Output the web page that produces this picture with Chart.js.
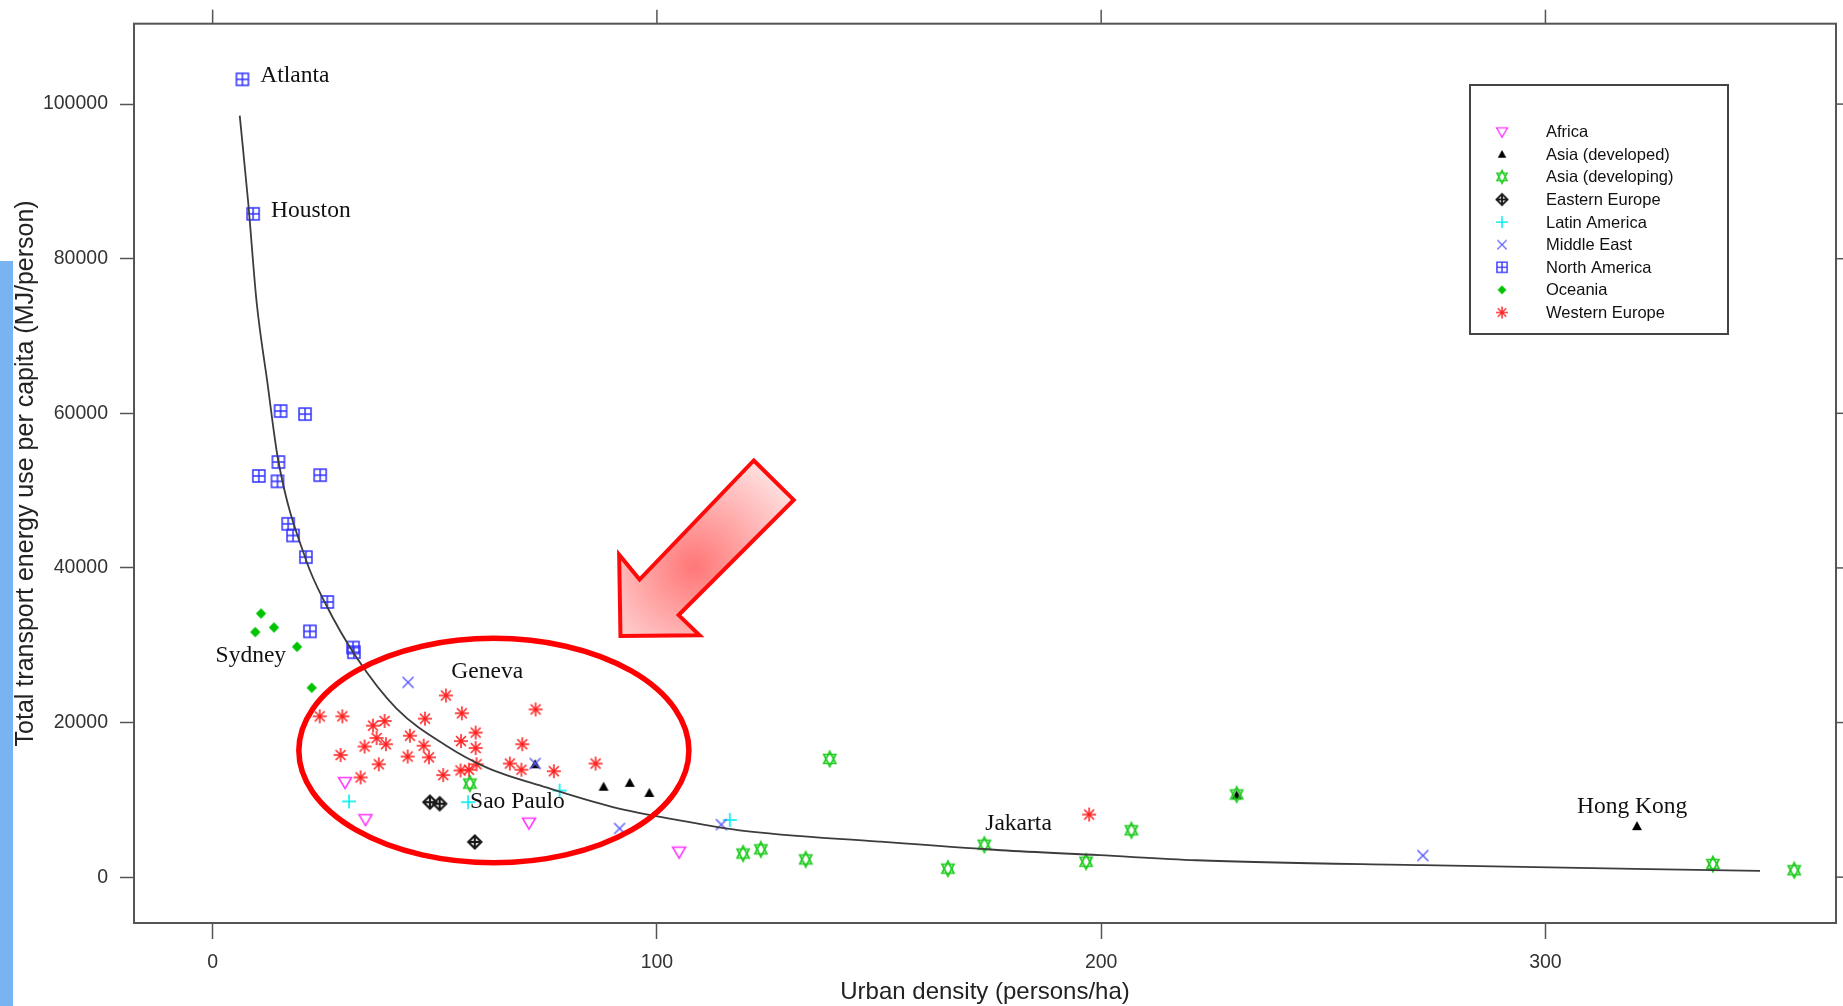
<!DOCTYPE html>
<html><head><meta charset="utf-8"><title>Urban density vs transport energy</title>
<script src="https://cdn.jsdelivr.net/npm/chart.js@4.4.1/dist/chart.umd.min.js"></script>
<style>html,body{margin:0;padding:0;background:#fff;overflow:hidden;}canvas{display:block;}</style>
</head><body>
<canvas id="c" width="1843" height="1006"></canvas>
<script>
// ---------------- data ----------------
const xTickValues = [0, 100, 200, 300];
const yTickValues = [0, 20000, 40000, 60000, 80000, 100000];
const regionNames = ['Africa','Asia (developed)','Asia (developing)','Eastern Europe','Latin America','Middle East','North America','Oceania','Western Europe'];

const africaX = [29.8, 34.4, 71.2, 105.0];
const africaY = [12300, 7500, 7050, 3300];
const asiaDevelopedX = [72.6, 88.0, 93.9, 98.3, 230.5, 320.6];
const asiaDevelopedY = [14600, 11700, 12200, 10900, 10600, 6600];
const asiaDevelopingX = [57.9, 119.4, 123.4, 133.5, 138.9, 165.5, 173.7, 196.6, 206.8, 230.5, 337.7, 356.0];
const asiaDevelopingY = [12100, 3060, 3600, 2300, 15300, 1100, 4200, 2000, 6060, 10700, 1700, 900];
const easternEuropeX = [48.9, 51.1, 59.0];
const easternEuropeY = [9700, 9500, 4550];
const latinAmericaX = [30.7, 57.5, 78.1, 116.4];
const latinAmericaY = [9800, 9700, 11200, 7400];
const middleEastX = [44.0, 72.6, 91.6, 114.5, 272.4];
const middleEastY = [25200, 14700, 6300, 6800, 2800];
const northAmericaX = [6.7, 9.1, 15.3, 20.8, 14.8, 10.4, 14.6, 24.2, 17.0, 18.1, 21.0, 25.8, 21.9, 31.6, 31.8];
const northAmericaY = [103200, 85800, 60300, 59900, 53700, 51900, 51200, 52000, 45700, 44200, 41400, 35600, 31800, 29700, 29100];
const oceaniaX = [10.9, 9.6, 13.8, 19.0, 22.3];
const oceaniaY = [34100, 31700, 32300, 29800, 24500];
const westernEuropeX = [52.5, 24.1, 29.2, 38.7, 36.1, 47.8, 56.1, 72.7, 59.2, 44.4, 36.9, 39.0, 34.2, 47.5, 55.9, 59.2, 69.7, 28.8, 43.9, 48.7, 37.4, 55.8, 57.7, 59.4, 66.9, 69.5, 76.8, 86.2, 51.9, 33.3, 197.3];
const westernEuropeY = [23500, 20800, 20800, 20200, 19600, 20500, 21200, 21700, 18700, 18300, 18000, 17200, 16900, 17000, 17600, 16700, 17200, 15800, 15600, 15500, 14600, 13800, 13900, 14600, 14700, 13900, 13700, 14700, 13200, 12900, 8100];

const curveX = [6.1, 8.0, 9.9, 12.3, 14.8, 21.1, 25.3, 32.4, 41.4, 52.6, 61.6, 75.1, 90.1, 105.1, 118.6, 150, 177.5, 199.6, 221.4, 272.4, 348.3];
const curveY = [98500, 87300, 74400, 64100, 53800, 40900, 35500, 28400, 21800, 17000, 14200, 11600, 9070, 7350, 6060, 4600, 3480, 2840, 2190, 1550, 810];

const cityNames = ['Atlanta','Houston','Sydney','Geneva','Sao Paulo','Jakarta','Hong Kong'];
const cityX = [18.5, 22.1, 8.6, 61.8, 68.6, 181.4, 319.5];
const cityY = [103600, 86200, 28600, 26500, 9700, 6900, 9160];

// highlight annotations (data units)
const ellipseCenter = [63.3, 16380];
const ellipseRadii = [43.9, 14510];
const arrowX = [121.8, 130.8, 104.9, 109.6, 91.8, 91.5, 96.1];
const arrowY = [53900, 48800, 33900, 31300, 31200, 41700, 38500];

// ---------------- styles ----------------
const SANS = "'Liberation Sans', Arial, sans-serif";
const SERIF = "'Liberation Serif', 'Times New Roman', serif";
const regionColors = ['#ff33ff','#000000','#22cc22','#1a1a1a','#00eeee','#5c5cff','#3030ff','#00c400','#ff1a1a'];
const regionShapes = ['triDown','triFill','starDavid','diamondPlus','plus','cross','squarePlus','diamondFill','asterisk'];

function makeSymbol(shape, color) {
  const c = document.createElement('canvas');
  c.width = 20; c.height = 20;
  const g = c.getContext('2d');
  g.translate(10, 10);
  g.strokeStyle = color; g.fillStyle = color; g.lineWidth = 1.5;
  const line = (a,b,c2,d) => { g.beginPath(); g.moveTo(a,b); g.lineTo(c2,d); g.stroke(); };
  switch (shape) {
    case 'triDown':
      g.beginPath(); g.moveTo(-6.5,-4.5); g.lineTo(6.5,-4.5); g.lineTo(0,6.5); g.closePath(); g.stroke(); break;
    case 'triFill':
      g.beginPath(); g.moveTo(-5,4); g.lineTo(5,4); g.lineTo(0,-5); g.closePath(); g.fill(); break;
    case 'starDavid':
      g.lineWidth = 1.7;
      g.beginPath(); g.moveTo(0,-7.5); g.lineTo(6,4.5); g.lineTo(-6,4.5); g.closePath(); g.stroke();
      g.beginPath(); g.moveTo(0,7.5); g.lineTo(6,-4.5); g.lineTo(-6,-4.5); g.closePath(); g.stroke(); break;
    case 'diamondPlus':
      g.lineWidth = 2.2;
      g.beginPath(); g.moveTo(0,-6.5); g.lineTo(6.5,0); g.lineTo(0,6.5); g.lineTo(-6.5,0); g.closePath(); g.stroke();
      line(-6.5,0,6.5,0); line(0,-6.5,0,6.5); break;
    case 'plus':
      g.lineWidth = 1.6; line(-7,0,7,0); line(0,-7,0,7); break;
    case 'cross':
      line(-5.5,-5.5,5.5,5.5); line(-5.5,5.5,5.5,-5.5); break;
    case 'squarePlus':
      g.lineWidth = 1.5; g.strokeRect(-6,-6,12,12); line(-6,0,6,0); line(0,-6,0,6); break;
    case 'diamondFill':
      g.beginPath(); g.moveTo(0,-5.2); g.lineTo(5.2,0); g.lineTo(0,5.2); g.lineTo(-5.2,0); g.closePath(); g.fill(); break;
    case 'asterisk':
      g.lineWidth = 1.5;
      for (let k = 0; k < 4; k++) { const a = k*Math.PI/4; line(-7*Math.cos(a),-7*Math.sin(a),7*Math.cos(a),7*Math.sin(a)); }
      break;
  }
  return c;
}
const symbols = regionShapes.map((s,i) => makeSymbol(s, regionColors[i]));

const pairs = (xs, ys) => xs.map((x,i) => ({x, y: ys[i]}));
const regionData = [
  pairs(africaX, africaY), pairs(asiaDevelopedX, asiaDevelopedY), pairs(asiaDevelopingX, asiaDevelopingY),
  pairs(easternEuropeX, easternEuropeY), pairs(latinAmericaX, latinAmericaY), pairs(middleEastX, middleEastY),
  pairs(northAmericaX, northAmericaY), pairs(oceaniaX, oceaniaY), pairs(westernEuropeX, westernEuropeY)
];

const datasets = [{
  label: 'fit', data: pairs(curveX, curveY), showLine: true, pointRadius: 0,
  borderColor: '#3c3c3c', borderWidth: 1.8, cubicInterpolationMode: 'monotone', fill: false, order: 0
}].concat(regionNames.map((n,i) => ({
  label: n, data: regionData[i], pointStyle: symbols[i], pointRadius: 6, showLine: false, order: 20 - i
})));

// ---------------- decorations plugin ----------------
const decor = {
  id: 'decor',
  beforeDraw(chart) {
    const g = chart.ctx;
    g.save();
    g.fillStyle = '#ffffff'; g.fillRect(0, 0, chart.width, chart.height);
    g.fillStyle = '#79b4f2'; g.fillRect(0, 261, 13, chart.height - 261);
    g.restore();
  },
  beforeDatasetsDraw(chart) {
    const g = chart.ctx, a = chart.chartArea, sx = chart.scales.x, sy = chart.scales.y;
    g.save();
    g.strokeStyle = '#555'; g.lineWidth = 2;
    g.strokeRect(a.left, a.top, a.right - a.left, a.bottom - a.top);
    g.lineWidth = 1.5;
    xTickValues.forEach(v => { const p = sx.getPixelForValue(v); g.beginPath(); g.moveTo(p, a.top); g.lineTo(p, a.top - 14); g.stroke(); });
    yTickValues.forEach(v => { const p = sy.getPixelForValue(v); g.beginPath(); g.moveTo(a.right, p); g.lineTo(a.right + 14, p); g.stroke(); });
    g.restore();
  },
  afterDatasetsDraw(chart) {
    const g = chart.ctx, sx = chart.scales.x, sy = chart.scales.y;
    g.save();
    // city labels
    g.font = '23.5px ' + SERIF; g.fillStyle = '#111'; g.textAlign = 'center'; g.textBaseline = 'middle';
    cityNames.forEach((t,i) => g.fillText(t, sx.getPixelForValue(cityX[i]), sy.getPixelForValue(cityY[i])));
    // ellipse
    const cx = sx.getPixelForValue(ellipseCenter[0]), cy = sy.getPixelForValue(ellipseCenter[1]);
    const rx = Math.abs(sx.getPixelForValue(ellipseCenter[0] + ellipseRadii[0]) - cx);
    const ry = Math.abs(sy.getPixelForValue(ellipseCenter[1] + ellipseRadii[1]) - cy);
    g.beginPath(); g.ellipse(cx, cy, rx, ry, 0, 0, Math.PI*2);
    g.strokeStyle = '#ff0000'; g.lineWidth = 5.5; g.stroke();
    // arrow
    const pts = arrowX.map((x,i) => [sx.getPixelForValue(x), sy.getPixelForValue(arrowY[i])]);
    let mx = 0, my = 0; pts.forEach(p => { mx += p[0]; my += p[1]; }); mx /= pts.length; my /= pts.length;
    const grd = g.createRadialGradient(mx + 8, my - 2, 4, mx + 8, my - 2, 120);
    grd.addColorStop(0, '#ff7a7a'); grd.addColorStop(1, '#ffe0e0');
    g.beginPath(); pts.forEach((p,i) => i ? g.lineTo(p[0], p[1]) : g.moveTo(p[0], p[1])); g.closePath();
    g.fillStyle = grd; g.fill();
    g.strokeStyle = '#ff0a0a'; g.lineWidth = 4; g.lineJoin = 'miter'; g.stroke();
    // legend
    const bx = 1470, by = 85, bw = 258, bh = 249;
    g.fillStyle = '#fff'; g.fillRect(bx, by, bw, bh);
    g.strokeStyle = '#444'; g.lineWidth = 2; g.strokeRect(bx, by, bw, bh);
    g.font = '16.5px ' + SANS; g.fillStyle = '#111'; g.textAlign = 'left'; g.textBaseline = 'middle';
    regionNames.forEach((n,i) => {
      const yy = 131.7 + i * 22.6, s = 0.85, c = symbols[i];
      g.drawImage(c, 1502 - c.width*s/2, yy - c.height*s/2, c.width*s, c.height*s);
      g.fillText(n, 1546, yy + 1);
    });
    g.restore();
  }
};

Chart.defaults.font.family = SANS;
new Chart(document.getElementById('c'), {
  type: 'scatter',
  data: { datasets },
  options: {
    responsive: false, devicePixelRatio: 1, animation: false, events: [],
    layout: { padding: { top: 21, right: 5, left: 0, bottom: 0 } },
    plugins: { legend: { display: false }, tooltip: { enabled: false } },
    scales: {
      x: {
        type: 'linear', min: -17.7, max: 365.4,
        afterBuildTicks: s => { s.ticks = xTickValues.map(v => ({ value: v })); },
        afterFit: s => { s.height = 83; },
        ticks: { font: { size: 19.5 }, color: '#333', padding: 12, maxRotation: 0, autoSkip: false, callback: v => String(v) },
        grid: { drawOnChartArea: false, drawTicks: true, tickLength: 16, tickColor: '#555', tickWidth: 1.5 },
        border: { display: false },
        title: { display: true, text: 'Urban density (persons/ha)', color: '#222', font: { size: 24, lineHeight: 1 }, padding: { top: 0, bottom: 1.5 } }
      },
      y: {
        type: 'linear', min: -5930, max: 110400,
        afterBuildTicks: s => { s.ticks = yTickValues.map(v => ({ value: v })); },
        afterFit: s => { s.width = 134; },
        ticks: { font: { size: 19.5 }, color: '#333', padding: 12, autoSkip: false, callback: v => String(v) },
        grid: { drawOnChartArea: false, drawTicks: true, tickLength: 14, tickColor: '#555', tickWidth: 1.5 },
        border: { display: false },
        title: { display: true, text: 'Total transport energy use per capita (MJ/person)', color: '#222', font: { size: 25, lineHeight: 1 }, padding: { top: 13.5, bottom: 0 } }
      }
    }
  },
  plugins: [decor]
});
</script>
</body></html>
